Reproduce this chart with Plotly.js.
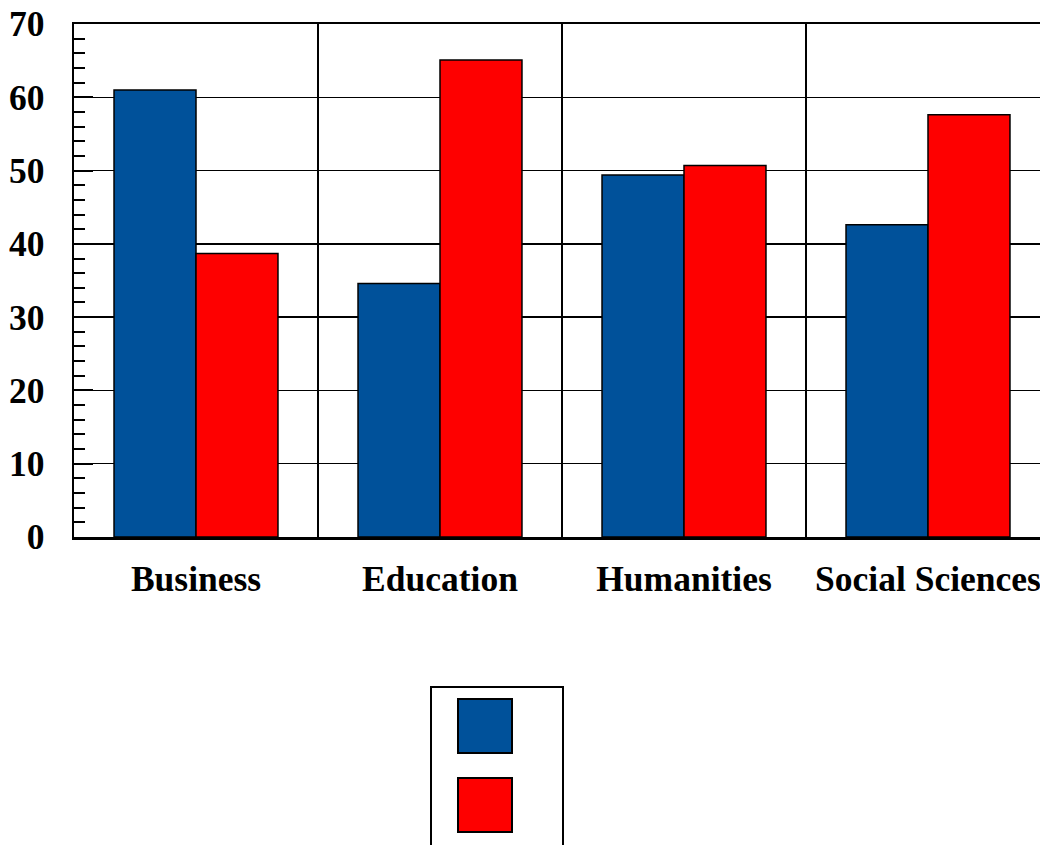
<!DOCTYPE html>
<html>
<head>
<meta charset="utf-8">
<script src="https://cdn.plot.ly/plotly-3.0.1.min.js"></script>
<style>
html, body { margin: 0; padding: 0; overflow: hidden; background: #fff; }
#chart { width: 1050px; height: 845px; }
</style>
</head>
<body>
<div id="chart"></div>
<script>
// Data
const categories = ["Business", "Education", "Humanities", "Social Sciences"];
const series1Values = [61.0, 34.6, 49.4, 42.6];
const series2Values = [38.7, 65.1, 50.7, 57.6];
const seriesColors = ["#00519A", "#FE0000"];
const yTickVals = [0, 10, 20, 30, 40, 50, 60, 70];

const W = 1050, H = 845;
const M = {l: 74, r: 0, t: 24, b: 308};
const pw = W - M.l - M.r, ph = H - M.t - M.b;
function px(x) { return (x - M.l) / pw; }
function py(y) { return (H - M.b - y) / ph; }

const font = {family: "Liberation Serif, Times New Roman, serif", size: 35.5, color: "#000", weight: 700};

const traces = [
  {type: "bar", x: categories, y: series1Values, name: "",
   marker: {color: seriesColors[0], line: {color: "#000", width: 1.5}}, showlegend: false},
  {type: "bar", x: categories, y: series2Values, name: "",
   marker: {color: seriesColors[1], line: {color: "#000", width: 1.5}}, showlegend: false}
];

const shapes = [
  // legend box
  {type: "rect", xref: "paper", yref: "paper", x0: px(431), x1: px(563), y0: py(687), y1: py(870),
   line: {color: "#000", width: 2}, fillcolor: "rgba(0,0,0,0)"},
  {type: "rect", xref: "paper", yref: "paper", x0: px(458), x1: px(512), y0: py(699), y1: py(753),
   line: {color: "#000", width: 2}, fillcolor: seriesColors[0]},
  {type: "rect", xref: "paper", yref: "paper", x0: px(458), x1: px(512), y0: py(778), y1: py(832),
   line: {color: "#000", width: 2}, fillcolor: seriesColors[1]}
];

const layout = {
  width: W, height: H,
  margin: M,
  paper_bgcolor: "#fff", plot_bgcolor: "#fff",
  font: font,
  showlegend: false,
  barmode: "group",
  bargap: 0.328,
  bargroupgap: 0,
  xaxis: {
    type: "category",
    tickson: "boundaries",
    showgrid: true, gridcolor: "#000", gridwidth: 2,
    ticks: "",
    showline: true, linecolor: "#000", linewidth: 2.5, mirror: true,
    ticklabelstandoff: 9,
    tickfont: font,
    range: [-0.5, 3.5]
  },
  yaxis: {
    range: [0, 70],
    tickvals: yTickVals,
    ticktext: yTickVals.map(String),
    showgrid: true, gridcolor: "#000", gridwidth: 1.5,
    zeroline: false,
    ticks: "inside", ticklen: 19, tickwidth: 2, tickcolor: "#000",
    minor: {dtick: 2, ticks: "inside", ticklen: 11, tickwidth: 2, tickcolor: "#000", showgrid: false},
    showline: true, linecolor: "#000", linewidth: 2.5, mirror: true,
    ticklabelstandoff: 20,
    tickfont: font
  },
  shapes: shapes
};

Plotly.newPlot("chart", traces, layout, {displayModeBar: false, staticPlot: true});
</script>
</body>
</html>
